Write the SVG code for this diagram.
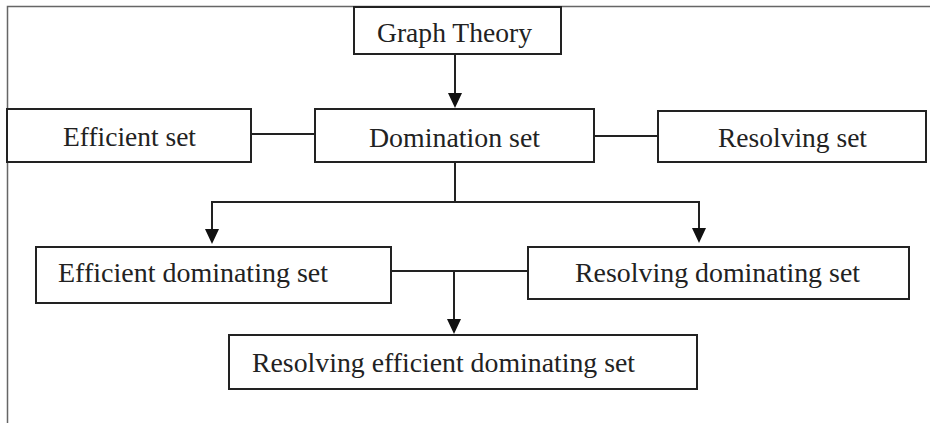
<svg xmlns="http://www.w3.org/2000/svg" width="930" height="423" viewBox="0 0 930 423">
<style>
.box{fill:#fff;stroke:#222;stroke-width:2}
.lbl{font-family:"Liberation Serif","DejaVu Serif",serif;font-size:26.5px;fill:#222}
.ln{fill:none;stroke:#222;stroke-width:2}
.arr{marker-end:url(#ah)}
.frame{fill:none;stroke:#666;stroke-width:1.5}
</style>
<defs>
<marker id="ah" viewBox="0 0 15 14" refX="11" refY="7" markerWidth="15" markerHeight="14" markerUnits="userSpaceOnUse" orient="auto">
<path d="M0,0 L15,7 L0,14 Z" fill="#111"/>
</marker>
</defs>
<rect width="930" height="423" fill="#fff"/>
<path class="frame" d="M7.5,423 V6.5 H930"/>
<g id="connectors">
<line class="ln arr" x1="455" y1="54" x2="455" y2="104"/>
<line class="ln" x1="251" y1="134" x2="315" y2="134"/>
<line class="ln" x1="594" y1="136" x2="658" y2="136"/>
<path class="ln" d="M455,162 V202 M212,202 H699"/>
<line class="ln arr" x1="212" y1="201" x2="212" y2="240"/>
<line class="ln arr" x1="699" y1="201" x2="699" y2="239"/>
<line class="ln" x1="391" y1="271" x2="528" y2="271"/>
<line class="ln arr" x1="454" y1="271" x2="454" y2="330"/>
</g>
<g id="graph-theory">
<rect class="box" x="354" y="7" width="207" height="47"/>
<text class="lbl" x="377" y="42" textLength="155" lengthAdjust="spacingAndGlyphs">Graph Theory</text>
</g>
<g id="efficient-set">
<rect class="box" x="7" y="109" width="244" height="53"/>
<text class="lbl" x="63" y="146" textLength="133" lengthAdjust="spacingAndGlyphs">Efficient set</text>
</g>
<g id="domination-set">
<rect class="box" x="315" y="109" width="279" height="53"/>
<text class="lbl" x="369" y="147" textLength="171" lengthAdjust="spacingAndGlyphs">Domination set</text>
</g>
<g id="resolving-set">
<rect class="box" x="658" y="111" width="268" height="51"/>
<text class="lbl" x="718" y="147" textLength="149" lengthAdjust="spacingAndGlyphs">Resolving set</text>
</g>
<g id="efficient-dominating-set">
<rect class="box" x="36" y="247" width="355" height="56"/>
<text class="lbl" x="58" y="282" textLength="270" lengthAdjust="spacingAndGlyphs">Efficient dominating set</text>
</g>
<g id="resolving-dominating-set">
<rect class="box" x="528" y="247" width="381" height="52"/>
<text class="lbl" x="575" y="282" textLength="285" lengthAdjust="spacingAndGlyphs">Resolving dominating set</text>
</g>
<g id="resolving-efficient-dominating-set">
<rect class="box" x="229" y="335" width="468" height="54"/>
<text class="lbl" x="252" y="372" textLength="383" lengthAdjust="spacingAndGlyphs">Resolving efficient dominating set</text>
</g>
</svg>
